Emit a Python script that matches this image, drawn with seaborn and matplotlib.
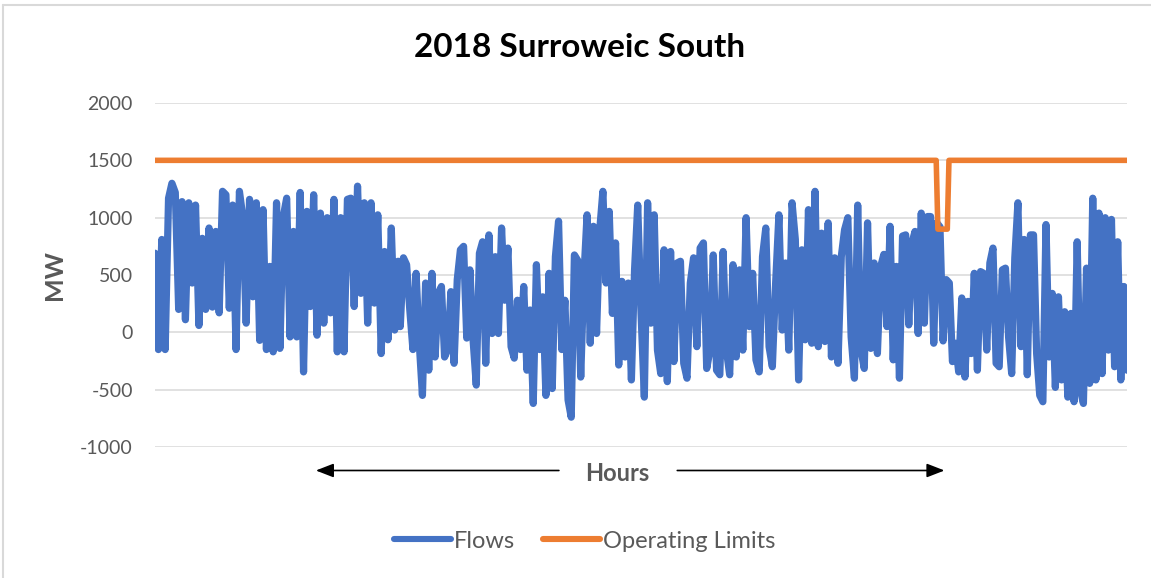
import numpy as np
import pandas as pd
import matplotlib.pyplot as plt
import seaborn as sns

flows_q1 = [690, -150, 810, -150, 1170, 1300, 1220, 200, 1140, 110, 1130, 430, 1110, 60,
            820, 200, 910, 220, 880, 170, 1230, 1200, 210, 1110, -150, 1230, 1010, 80,
            1160, 310, 1130, -70, 1070, -150, 575, -170, 1130, -140, 1010, 1170, -40, 880,
            -40, 1220, -345, 1055, 225, 1200, -25, 1040, 80, 1000, 170, 1160, -170, 1000,
            -170, 1160, 1170, 225, 1275, 340, 1130, 80, 1130, 255, 1025, -185, 705, -65,
            910, 20, 620]
flows_q2 = [50, 650, 590, 200, -150, 515, -95, -550, 430, -330, 515, -215, 340, 400, -215,
            -150, 355, -270, 460, 720, 750, -50, 545, -65, -460, 690, 790, -270, 850, -10,
            660, -10, 910, 280, 735, -125, -225, 280, -150, 400, -330, 195, -620, 590, -150,
            310, -550, 515, -490, 660, 970, -150, 280, -590, -740, 675, 630, -390, 490, 1025,
            -95, 925, -10, 895, 1230, 430, 1055, 165, 780, -285, 445, -215, 430, -415, 545,
            1110]
flows_q3 = [165, -565, 1130, 80, 1025, -155, -360, 720, -430, 705, -255, 605, 620, -270,
            -400, 430, 650, -125, 735, 780, -315, -155, 675, -330, -370, 705, -155, -370,
            590, -215, 545, -155, 1000, 50, 515, -240, -345, 660, 910, -125, -300, 430, 1025,
            20, 605, -155, 1130, 810, -415, 720, -65, 1070, -95, 1230, -125, 865, -80, 955,
            -215, 650, -270, 660, 895, 1000, -40, -400, 1110, -155, -315, 955, -140, 605,
            -185]
flows_q4 = [575, 680, 50, 925, -240, 575, -400, 840, 850, 65, 780, 880, -10, 1040, 80, 1010,
            1010, -95, 955, 920, -75, 460, 430, -255, -95, -345, 300, -390, 270, -185, 515,
            -330, 530, 515, -155, 605, 735, -270, -300, 545, 560, -40, -360, 650, 1130, -125,
            810, -370, 850, 850, -185, -550, -605, 940, -215, 340, -480, 310, -415, 180, -565,
            165, -605, 790, -500, -620, 560, -445, 1170, -415, 1040, -360, 1000, -155, 985,
            -300, 790, -415, 400, -330]

# hour span covered by each block
block_hours = [(0, 2190), (2210, 4350), (4380, 6510), (6540, 8760)]

# operating limit: flat 1500 MW with one short derate
limit_hours = [0, 7040, 7055, 7140, 7155, 8760]
limit_mw = [1500, 1500, 900, 900, 1500, 1500]

hours = np.concatenate([np.linspace(a, b, len(v))
                        for (a, b), v in zip(block_hours, [flows_q1, flows_q2, flows_q3, flows_q4])])
df_flows = pd.DataFrame({"Hour": hours, "MW": flows_q1 + flows_q2 + flows_q3 + flows_q4})
df_limit = pd.DataFrame({"Hour": limit_hours, "MW": limit_mw})

sns.set_theme(style="white")
plt.rcParams['font.family'] = ['Lato', 'DejaVu Sans']
plt.rcParams['axes.unicode_minus'] = False

fig = plt.figure(figsize=(11.51, 5.78), dpi=100)
ax = fig.add_axes([0.1347, 0.2266, 0.9792 - 0.1347, 0.8218 - 0.2266])

blue = "#4472C4"
orange = "#ED7D31"
sns.lineplot(data=df_flows, x="Hour", y="MW", ax=ax, color=blue, linewidth=5.2,
             sort=False, label="Flows", solid_joinstyle="round", solid_capstyle="round")
sns.lineplot(data=df_limit, x="Hour", y="MW", ax=ax, color=orange, linewidth=4.0,
             sort=False, label="Operating Limits", solid_joinstyle="round", solid_capstyle="round")

ax.set_xlim(0, 8760)
ax.set_ylim(-1000, 2000)
ax.set_yticks(range(-1000, 2001, 500))
ax.set_xticks([])
ax.grid(axis="y", color="#d9d9d9", linewidth=1.1)
ax.set_axisbelow(True)
for s in ax.spines.values():
    s.set_visible(False)
ax.tick_params(axis="y", length=0, pad=16, labelsize=14, labelcolor="#595959")
ax.set_xlabel("")
ax.set_ylabel("MW", fontsize=18, fontweight="bold", color="#595959", labelpad=10)

fig.text(0.5037, 0.917, "2018 Surroweic South", ha="center", va="center",
         fontsize=24, fontweight="bold", color="black")

# x axis title with arrows
fig.text(0.536, 0.180, "Hours", ha="center", va="center", fontsize=17,
         fontweight="bold", color="#595959")
arrow_kw = dict(arrowstyle="-|>,head_length=0.9,head_width=0.35", color="black", lw=1.2)
ax.annotate("", xy=(0.272, 0.186), xytext=(0.488, 0.186), xycoords="figure fraction",
            textcoords="figure fraction", arrowprops=arrow_kw)
ax.annotate("", xy=(0.823, 0.186), xytext=(0.586, 0.186), xycoords="figure fraction",
            textcoords="figure fraction", arrowprops=arrow_kw)

leg = ax.legend(loc="center", bbox_to_anchor=(0.508, 0.064), bbox_transform=fig.transFigure,
                ncol=2, frameon=False, fontsize=17, handlelength=2.4, handletextpad=0.12,
                columnspacing=1.2, labelcolor="#595959")
for line in leg.get_lines():
    line.set_linewidth(4.4)
    line.set_solid_capstyle("round")

# chart-area border (top and left edges visible in the crop)
fig.add_artist(plt.Line2D([0.003, 1.0], [0.992, 0.992], transform=fig.transFigure,
                          color="#d9d9d9", linewidth=1.5))
fig.add_artist(plt.Line2D([0.003, 0.003], [0.0, 0.992], transform=fig.transFigure,
                          color="#d9d9d9", linewidth=1.5))

fig.savefig("out.png", dpi=100)
